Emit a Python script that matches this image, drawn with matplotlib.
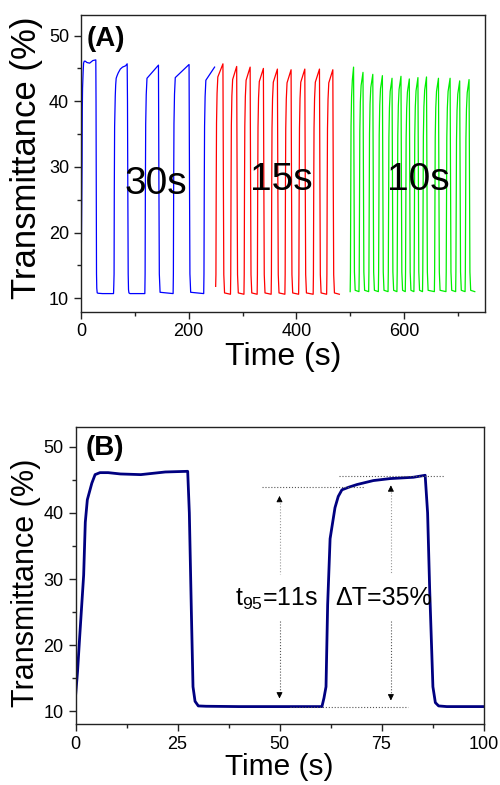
import matplotlib
matplotlib.use("Agg")
import matplotlib.pyplot as plt
from matplotlib.ticker import MultipleLocator

plt.rcParams['font.family'] = ['Liberation Sans', 'DejaVu Sans']
plt.rcParams['mathtext.fontset'] = 'custom'
plt.rcParams['mathtext.rm'] = 'Liberation Sans'

# --- panel (B): one switching cycle ---
cycle_t = [0, 0.5, 1.0, 2.0, 2.4, 2.9, 4.0, 4.8, 6, 8, 11, 16, 22, 27.5,
           27.9, 28.4, 28.8, 29.3, 30.1, 32, 40, 50, 60.4, 60.9, 61.4, 61.8,
           62.4, 63.6, 64.4, 65.3, 67, 69, 73, 77.1, 80, 82.8, 85.7, 86.3,
           86.8, 87.6, 88.2, 89, 91, 100]
cycle_T = [12.2, 16, 21, 30.6, 38.6, 42, 44.5, 45.8, 46.1, 46.1, 45.9, 45.8,
           46.2, 46.3, 40, 25, 13.7, 11.5, 10.8, 10.75, 10.7, 10.7, 10.7, 12,
           13.7, 26.1, 36.1, 40.8, 42.5, 43.5, 43.9, 44.3, 44.9, 45.2, 45.3,
           45.4, 45.7, 40, 28.6, 13.7, 11.3, 10.8, 10.7, 10.7]

# --- panel (A): switching times and peak transmittance of each cycle ---
blue_rise = [118.5, 171.0, 227.8]
blue_peak = [143.8, 200.6, 248.0]
blue_top = [45.5, 45.6, 45.2]

red_rise = [250.0, 277.5, 302.5, 327.0, 353.0, 378.5, 404.0, 431.0, 456.0]
red_peak = [263.5, 289.0, 314.0, 338.6, 364.6, 390.0, 415.5, 442.7, 467.5]
red_top = [45.7, 45.3, 45.2, 45.0, 44.9, 44.8, 44.9, 44.9, 44.8]

green_rise = [499.7, 516.0, 534.0, 552.0, 570.0, 586.5, 602.0, 618.0, 634.0,
              656.0, 677.5, 695.5, 713.0]
green_peak = [506.0, 523.5, 541.7, 559.5, 577.4, 594.0, 609.5, 625.5, 641.4,
              663.6, 685.2, 703.0, 720.4]
green_top = [45.2, 44.4, 44.1, 43.9, 43.5, 43.8, 43.4, 43.6, 43.7, 43.5,
             43.5, 43.1, 43.3]

labels_A = ["30s", "15s", "10s"]
label_x = [139, 372, 627]
label_y = [27.4, 28.0, 28.0]


def trace(rises, peaks, tops, low, t_end, start_T=None):
    # corner points of each bleach/colour cycle
    t, T = [], []
    for r, p, top in zip(rises, peaks, tops):
        t += [r, r + 0.5, r + 1.0, r + 1.6, r + 2.6, r + 4.0, p]
        T += [low, low + 3, top - 19, top - 9, top - 4.5, top - 2.0, top]
        if p < t_end:
            t += [p + 0.8, p + 1.6, p + 3.0]
            T += [28, low + 3, low + 0.2]
    if t[-1] < t_end:
        t.append(t_end)
        T.append(low)
    if start_T is not None:
        T[0] = start_T
    return t, T


n0 = cycle_t.index(91)
bt, bT = trace(blue_rise, blue_peak, blue_top, 10.7, 248.0)
blue_t = cycle_t[:n0 + 1] + bt
blue_T = cycle_T[:n0 + 1] + bT
red_t, red_T = trace(red_rise, red_peak, red_top, 10.6, 479.6, start_T=11.8)
green_t, green_T = trace(green_rise, green_peak, green_top, 11.0, 731.0)

fig = plt.figure(figsize=(5, 7.85), dpi=100)
axA = fig.add_axes([0.162, 0.603, 0.808, 0.378])
axB = fig.add_axes([0.151, 0.078, 0.816, 0.378])


def style(ax, ysize, xsize, xpad):
    for s in ax.spines.values():
        s.set_linewidth(1.0)
        s.set_color('#222222')
    ax.tick_params(which='both', direction='out', top=False, right=False,
                   labelsize=13, width=1.0, color='#222222')
    ax.tick_params(which='major', length=5)
    ax.tick_params(which='minor', length=3)
    ax.set_ylabel("Transmittance (%)", fontsize=ysize)
    ax.set_xlabel("Time (s)", fontsize=xsize, labelpad=xpad)
    ax.yaxis.set_major_locator(MultipleLocator(10))
    ax.yaxis.set_minor_locator(MultipleLocator(5))


# (A)
axA.plot(blue_t, blue_T, color='#0000FF', lw=0.9)
axA.plot(red_t, red_T, color='#FF0000', lw=0.9)
axA.plot(green_t, green_T, color='#00EE00', lw=0.9)
for lab, x, y in zip(labels_A, label_x, label_y):
    axA.text(x, y, lab, fontsize=28, ha='center', va='center')
axA.text(0.014, 0.962, "(A)", transform=axA.transAxes, fontsize=20,
         fontweight='bold', ha='left', va='top')
axA.set_xlim(0, 750)
axA.set_ylim(7.95, 53.15)
axA.xaxis.set_major_locator(MultipleLocator(200))
axA.xaxis.set_minor_locator(MultipleLocator(100))
style(axA, 25, 23, 1)
axA.yaxis.set_label_coords(-0.095, 0.52)

# (B)
axB.plot(cycle_t, cycle_T, color='#000080', lw=2.0)
axB.text(0.024, 0.972, "(B)", transform=axB.transAxes, fontsize=20,
         fontweight='bold', ha='left', va='top')
axB.text(59.5, 25.9, r"t$_{95}$=11s", fontsize=18, ha='right', va='baseline')
axB.text(63.7, 26.1, "\u0394T=35%", fontsize=18, ha='left', va='baseline')

# guide lines and arrows
axB.plot([45.7, 70.8], [43.9, 43.9], color='#555555', lw=0.8, ls=':')
axB.plot([64.6, 90.4], [45.6, 45.6], color='#555555', lw=0.8, ls=':')
axB.plot([52.6, 81.6], [10.6, 10.6], color='#555555', lw=0.8, ls=':')
for x, top, bot in [(50.0, 43.0, 11.5), (77.3, 44.6, 11.2)]:
    axB.plot([x, x], [top - 1, 30.7], color='#999999', lw=0.8, ls=':')
    axB.plot([x, x], [23.7, bot + 1], color='#555555', lw=0.8, ls=':')
    axB.annotate('', xy=(x, top), xytext=(x, top - 1.6),
                 arrowprops=dict(arrowstyle='-|>', color='black', lw=0.6,
                                 mutation_scale=9))
    axB.annotate('', xy=(x, bot), xytext=(x, bot + 1.6),
                 arrowprops=dict(arrowstyle='-|>', color='black', lw=0.6,
                                 mutation_scale=9))
axB.set_xlim(0, 100)
axB.set_ylim(8.1, 53)
axB.xaxis.set_major_locator(MultipleLocator(25))
axB.xaxis.set_minor_locator(MultipleLocator(12.5))
style(axB, 22, 21.5, 0)
axB.yaxis.set_label_coords(-0.085, 0.475)

fig.savefig("out.png", dpi=100)
